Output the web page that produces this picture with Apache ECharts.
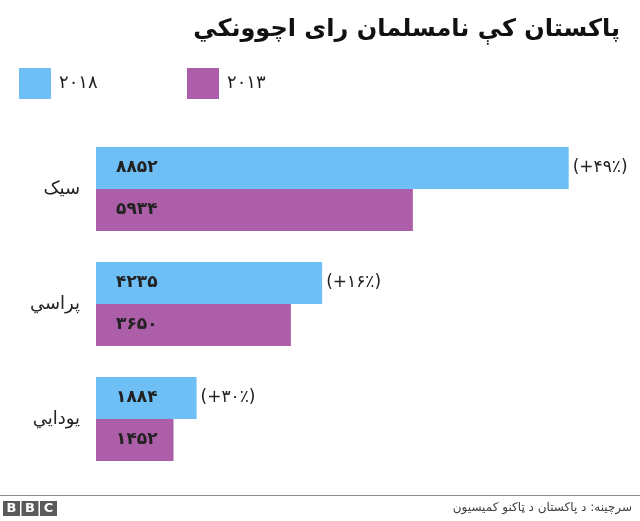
<!DOCTYPE html>
<html>
<head>
<meta charset="utf-8">
<script src="https://cdn.jsdelivr.net/npm/echarts@6/dist/echarts.min.js"></script>
<style>
    html, body { margin: 0; padding: 0; background: #fff; }
    #chart { width: 640px; height: 521px; }
</style>
</head>
<body>
<div id="chart"></div>
<script>
// 数据
const categories = ['سیک', 'پراسي', 'یودايي'];
const values2018 = [8852, 4235, 1884];
const values2013 = [5934, 3650, 1452];
const changes = ['+۴۹٪', '+۱۶٪', '+۳۰٪'];
const seriesNames = ['۲۰۱۸', '۲۰۱۳'];

const colors = {
    blue: '#6ebff6',
    purple: '#ad5ea8',
    text: '#222222',
    gray: '#5a5a5a'
};
const font = 'DejaVu Sans';

// 数字转成波斯数字
function toFa(n) {
    return String(n).replace(/\d/g, d => '۰۱۲۳۴۵۶۷۸۹'[d]);
}

const chart = echarts.init(document.getElementById('chart'));

const valueLabel = {
    show: true,
    position: 'insideLeft',
    distance: 20,
    fontFamily: font,
    fontSize: 17,
    fontWeight: 'bold',
    color: colors.text,
    formatter: p => toFa(p.value)
};

const legendBase = {
    top: 68,
    padding: 0,
    icon: 'rect',
    itemWidth: 32,
    itemHeight: 31,
    textStyle: { fontFamily: font, fontSize: 18, color: colors.text, padding: [0, 0, 0, 3] }
};

const option = {
    animation: false,
    title: {
        text: 'پاکستان کې نامسلمان رای اچوونکي',
        right: 20,
        top: 18,
        padding: 0,
        textStyle: {
            fontFamily: font,
            fontSize: 24,
            fontWeight: 'bold',
            color: '#111'
        }
    },
    legend: [
        Object.assign({ data: [seriesNames[0]], left: 19 }, legendBase),
        Object.assign({ data: [seriesNames[1]], left: 187 }, legendBase)
    ],
    grid: {
        left: 96,
        right: 10,
        top: 131.5,
        bottom: 44.5
    },
    xAxis: {
        type: 'value',
        min: 0,
        max: 10000,
        show: false
    },
    yAxis: {
        type: 'category',
        data: categories,
        inverse: true,
        axisLine: { show: false },
        axisTick: { show: false },
        axisLabel: {
            margin: 16,
            fontFamily: font,
            fontSize: 18,
            color: colors.text,
            padding: [0, 0, 8, 0]
        }
    },
    series: [
        {
            name: seriesNames[0],
            type: 'bar',
            stack: 'a',
            data: values2018,
            barWidth: 42,
            barGap: '0%',
            itemStyle: { color: colors.blue },
            label: valueLabel
        },
        {
            // 百分比变化标签
            name: 'change',
            type: 'bar',
            stack: 'a',
            data: values2018.map(() => 0),
            barWidth: 42,
            itemStyle: { color: 'transparent' },
            label: {
                show: true,
                position: 'right',
                distance: 4,
                fontFamily: font,
                fontSize: 17,
                color: colors.text,
                formatter: p => '(' + changes[p.dataIndex] + ')'
            }
        },
        {
            name: seriesNames[1],
            type: 'bar',
            data: values2013,
            barWidth: 42,
            barGap: '0%',
            itemStyle: { color: colors.purple },
            label: valueLabel
        }
    ],
    graphic: [
        {
            type: 'line',
            shape: { x1: 0, y1: 495.5, x2: 640, y2: 495.5 },
            style: { stroke: '#8c8c8c', lineWidth: 1 }
        },
        // BBC标志
        ...['B', 'B', 'C'].map((ch, i) => ({
            type: 'group',
            left: 3 + i * 18.5,
            top: 501,
            children: [
                { type: 'rect', shape: { x: 0, y: 0, width: 17, height: 15 }, style: { fill: colors.gray } },
                {
                    type: 'text',
                    x: 8.5, y: 8,
                    style: {
                        text: ch, fill: '#fff', fontFamily: font, fontSize: 13, fontWeight: 'bold',
                        align: 'center', verticalAlign: 'middle'
                    }
                }
            ]
        })),
        {
            type: 'text',
            right: 8,
            top: 502,
            style: {
                text: 'سرچینه: د پاکستان د ټاکنو کمیسیون',
                fill: '#404040',
                fontFamily: font,
                fontSize: 12
            }
        }
    ]
};

chart.setOption(option);
</script>
</body>
</html>
